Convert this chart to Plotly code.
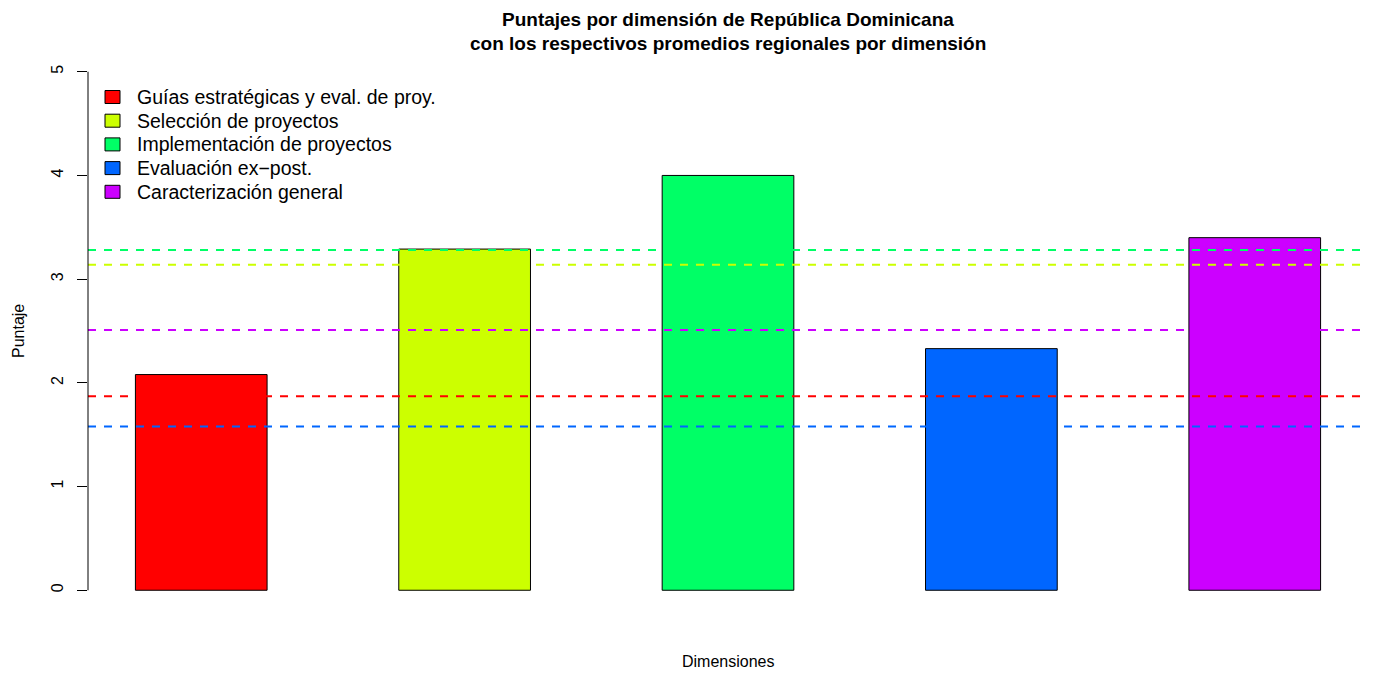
import plotly.graph_objects as go

categories = ["Guías estratégicas y eval. de proy.", "Selección de proyectos",
              "Implementación de proyectos", "Evaluación ex\u2212post.", "Caracterización general"]
country_scores = [2.08, 3.29, 4.00, 2.33, 3.40]
regional_means = [1.87, 3.14, 3.28, 1.58, 2.51]
colors = ["#FF0000", "#CCFF00", "#00FF66", "#0066FF", "#CC00FF"]
bar_x = [1.5, 3.5, 5.5, 7.5, 9.5]
y_ticks = [0, 1, 2, 3, 4, 5]

FONT = "Liberation Sans, Arial, Helvetica, sans-serif"

# figure geometry (page has an 8px body margin)
W, H = 1360, 665
ML, MR, MT, MB = 80, 0, 43, 62
PW, PH = W - ML - MR, H - MT - MB


def px(xpix):
    return (xpix - ML) / PW


def py(ypix):
    return (H - MB - ypix) / PH


fig = go.Figure()
for name, val, col, x in zip(categories, country_scores, colors, bar_x):
    fig.add_trace(go.Bar(x=[x], y=[val], name=name, width=1.0, showlegend=False,
                         marker=dict(color=col, line=dict(color="black", width=1))))

shapes = []
for m, col in zip(regional_means, colors):
    shapes.append(dict(type="line", xref="paper", yref="y", x0=0, x1=1, y0=m, y1=m,
                       line=dict(color=col, width=2, dash="8px,8px"), layer="above"))
# y axis line spanning the tick range only (as in R)
shapes.append(dict(type="line", xref="paper", yref="y", x0=0, x1=0, y0=y_ticks[0], y1=y_ticks[-1],
                   line=dict(color="black", width=1)))

annotations = [
    dict(text="<b>Puntajes por dimensión de República Dominicana</b>", xref="paper", yref="paper",
         x=0.5, y=py(12), showarrow=False, font=dict(size=19, family=FONT),
         xanchor="center", yanchor="middle"),
    dict(text="<b>con los respectivos promedios regionales por dimensión</b>", xref="paper", yref="paper",
         x=0.5, y=py(35), showarrow=False, font=dict(size=19, family=FONT),
         xanchor="center", yanchor="middle"),
    dict(text="Dimensiones", xref="paper", yref="paper", x=0.5, y=py(653),
         showarrow=False, font=dict(size=16, family=FONT), xanchor="center", yanchor="middle"),
    dict(text="Puntaje", xref="paper", yref="paper", x=px(10), y=0.5,
         showarrow=False, textangle=-90, font=dict(size=16, family=FONT),
         xanchor="center", yanchor="middle"),
]

# legend (R style: filled boxes + labels)
row0, row_step = 89, 23.7
for i, (name, col) in enumerate(zip(categories, colors)):
    yc = row0 + i * row_step
    shapes.append(dict(type="rect", xref="paper", yref="paper",
                       x0=px(97), x1=px(112), y0=py(yc - 6.5), y1=py(yc + 6.5),
                       fillcolor=col, line=dict(color="black", width=1), layer="above"))
    annotations.append(dict(text=name, xref="paper", yref="paper", x=px(127), y=py(yc),
                            showarrow=False, xanchor="left", yanchor="middle",
                            font=dict(size=19.5, family=FONT)))

fig.update_layout(
    width=W, height=H,
    paper_bgcolor="white", plot_bgcolor="white",
    margin=dict(l=ML, r=MR, t=MT, b=MB, autoexpand=False),
    font=dict(family=FONT, size=16, color="black"),
    barmode="overlay",
    showlegend=False,
    xaxis=dict(range=[0.64, 10.36], showticklabels=False, showline=False, ticks="",
               showgrid=False, zeroline=False, fixedrange=True),
    yaxis=dict(range=[-0.2, 5.2], tickvals=y_ticks, ticktext=[str(v) for v in y_ticks],
               ticks="outside", ticklen=10, tickcolor="black", tickwidth=1,
               tickangle=-90, showgrid=False, zeroline=False, showline=False,
               tickfont=dict(size=16, family=FONT), ticklabelstandoff=8),
    shapes=shapes,
    annotations=annotations,
)

fig.write_html("out.html")
